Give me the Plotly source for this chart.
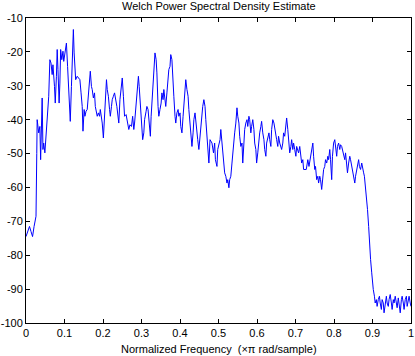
import plotly.graph_objects as go

freq_lo = [0.000, 0.005, 0.009, 0.013, 0.017, 0.021, 0.025, 0.026, 0.028]
psd_lo = [-74.5, -72.5, -71.5, -73.0, -74.5, -71.5, -69.0, -68.5, -50.0]

freq_a = [0.029, 0.033, 0.036, 0.038, 0.039, 0.042, 0.044, 0.046, 0.049, 0.052, 0.055, 0.057, 0.059,
          0.062, 0.065, 0.068, 0.070, 0.074, 0.076, 0.079, 0.081, 0.083, 0.086, 0.088, 0.090, 0.093,
          0.096, 0.098, 0.102, 0.105, 0.108, 0.110, 0.113, 0.115, 0.118, 0.121, 0.123, 0.125, 0.127,
          0.129, 0.133, 0.136, 0.140, 0.143, 0.146, 0.148, 0.151, 0.153, 0.156, 0.159, 0.162, 0.165,
          0.167, 0.170, 0.172, 0.175, 0.178, 0.180, 0.183, 0.185, 0.188, 0.191, 0.193, 0.196, 0.198,
          0.201, 0.204, 0.206, 0.209, 0.211, 0.214, 0.217, 0.219, 0.222, 0.224, 0.227, 0.230]
psd_a = [-40.0, -43.9, -42.0, -51.8, -46.9, -33.6, -48.8, -46.9, -49.8, -44.9, -41.5, -37.0, -33.1,
         -22.3, -23.3, -26.7, -23.8, -30.2, -35.1, -27.2, -19.3, -25.2, -35.1, -29.2, -19.3, -22.3,
         -19.8, -22.8, -20.3, -17.4, -24.3, -30.2, -37.0, -40.5, -30.2, -21.3, -13.4, -20.3, -27.2,
         -28.2, -27.2, -27.7, -28.2, -32.1, -36.1, -43.4, -37.0, -39.0, -37.5, -37.0, -32.1, -29.2,
         -25.7, -30.2, -31.1, -33.6, -32.1, -36.1, -38.0, -39.0, -38.0, -39.0, -37.0, -39.0, -41.0,
         -45.4, -37.0, -32.1, -28.2, -31.1, -33.1, -37.0, -39.0, -36.1, -34.1, -33.1, -32.1]

freq_b = [0.236, 0.241, 0.244, 0.248, 0.250, 0.253, 0.256, 0.260, 0.263, 0.267, 0.270, 0.274, 0.277,
          0.280, 0.282, 0.286, 0.289, 0.292, 0.294, 0.297, 0.300, 0.303, 0.306, 0.308, 0.312, 0.314,
          0.317, 0.320, 0.323, 0.325, 0.328, 0.331, 0.333, 0.335, 0.338, 0.340, 0.343, 0.345, 0.348,
          0.351, 0.353, 0.356, 0.358, 0.361, 0.363, 0.366, 0.369, 0.371, 0.374, 0.376, 0.379, 0.382,
          0.384, 0.387, 0.389, 0.392, 0.395, 0.397, 0.400, 0.402, 0.405, 0.408, 0.410, 0.413, 0.415,
          0.418, 0.421, 0.423, 0.426, 0.428, 0.431, 0.434, 0.436, 0.439, 0.441, 0.444, 0.446, 0.449,
          0.452, 0.454, 0.457, 0.459, 0.462, 0.465, 0.467, 0.470, 0.472, 0.475]
psd_b = [-36.1, -41.0, -34.1, -30.2, -27.7, -33.1, -39.0, -38.5, -40.0, -42.9, -41.5, -42.0, -39.0,
         -42.9, -41.0, -36.1, -30.6, -27.2, -30.2, -35.1, -42.0, -45.9, -43.9, -40.0, -37.5, -36.1,
         -37.0, -40.0, -44.9, -39.0, -32.1, -28.2, -22.3, -20.3, -22.3, -26.2, -36.1, -39.0, -37.0,
         -35.1, -32.1, -34.1, -31.1, -34.1, -36.1, -32.1, -28.2, -25.2, -24.3, -20.8, -22.3, -27.2,
         -33.1, -39.0, -41.0, -38.0, -37.0, -39.0, -38.0, -42.0, -43.9, -39.0, -35.1, -31.1, -28.2,
         -31.1, -33.1, -37.0, -41.0, -44.9, -47.9, -43.9, -40.0, -38.0, -41.0, -42.9, -45.9, -48.8,
         -44.9, -41.0, -38.0, -36.1, -34.1, -36.1, -40.0, -43.9, -48.8, -52.8]

freq_c = [0.478, 0.483, 0.487, 0.490, 0.492, 0.496, 0.498, 0.501, 0.504, 0.506, 0.509, 0.511, 0.514,
          0.516, 0.519, 0.522, 0.524, 0.527, 0.529, 0.532, 0.535, 0.537, 0.540, 0.542, 0.545, 0.548,
          0.550, 0.553, 0.555, 0.558, 0.561, 0.563, 0.566, 0.568, 0.571, 0.574, 0.576, 0.579, 0.581,
          0.584, 0.586, 0.589, 0.592, 0.594, 0.597, 0.599, 0.602, 0.605, 0.607, 0.610, 0.612, 0.615,
          0.618, 0.620, 0.623, 0.625, 0.628, 0.631, 0.633, 0.636, 0.638, 0.641, 0.644, 0.646, 0.649,
          0.651, 0.654, 0.656, 0.659, 0.662, 0.664, 0.667, 0.669, 0.672, 0.675, 0.677, 0.680, 0.682,
          0.685, 0.688, 0.690, 0.693, 0.695, 0.698, 0.701, 0.703, 0.706, 0.708, 0.711, 0.714, 0.716,
          0.719, 0.721]
psd_c = [-45.9, -46.9, -49.8, -46.9, -51.8, -53.8, -48.8, -46.9, -45.9, -42.9, -46.9, -50.8, -53.8,
         -55.7, -56.7, -58.7, -57.7, -60.1, -57.7, -56.7, -52.8, -49.8, -46.9, -43.9, -41.0, -36.5,
         -39.0, -41.0, -44.9, -47.9, -46.9, -52.8, -46.9, -42.9, -41.0, -40.0, -42.0, -39.0, -40.0,
         -43.9, -42.0, -40.0, -42.9, -46.9, -48.8, -52.8, -49.8, -45.9, -43.9, -42.0, -40.5, -43.9,
         -45.9, -48.8, -50.8, -46.9, -44.9, -43.9, -45.9, -47.9, -42.9, -40.0, -41.0, -42.9, -44.9,
         -45.9, -47.9, -44.9, -46.9, -47.9, -48.8, -46.9, -43.9, -44.9, -42.0, -39.5, -42.9, -46.9,
         -49.8, -47.9, -45.9, -48.8, -46.9, -48.8, -50.8, -47.9, -48.8, -49.8, -47.9, -50.8, -52.8,
         -51.8, -54.7]

freq_d = [0.728, 0.732, 0.735, 0.739, 0.742, 0.745, 0.747, 0.750, 0.752, 0.755, 0.758, 0.760, 0.763,
          0.765, 0.768, 0.771, 0.773, 0.776, 0.778, 0.781, 0.784, 0.786, 0.789, 0.791, 0.794, 0.796,
          0.799, 0.802, 0.804, 0.807, 0.809, 0.812, 0.815, 0.817, 0.820, 0.822, 0.825, 0.828, 0.830,
          0.833, 0.835, 0.838, 0.841, 0.843, 0.846, 0.848, 0.851, 0.854, 0.856, 0.859, 0.861, 0.864,
          0.866, 0.869, 0.872, 0.874, 0.877, 0.879, 0.882, 0.885, 0.887, 0.890, 0.892, 0.895, 0.898,
          0.900, 0.902, 0.905, 0.907, 0.910, 0.912, 0.915, 0.918, 0.920, 0.923, 0.925, 0.928, 0.930,
          0.933, 0.936, 0.938, 0.941, 0.943, 0.946, 0.949, 0.951, 0.954, 0.956, 0.959, 0.962, 0.964,
          0.967, 0.969, 0.972, 0.975, 0.977, 0.980, 0.982, 0.985, 0.988, 0.990, 0.993, 0.995, 0.998,
          1.000]
psd_d = [-54.7, -51.8, -53.8, -50.8, -48.8, -46.9, -50.8, -54.7, -53.8, -57.7, -56.7, -58.7, -56.7,
         -57.7, -60.6, -57.7, -54.7, -53.8, -51.8, -52.8, -50.8, -51.8, -48.8, -51.8, -57.7, -50.8,
         -46.9, -45.9, -48.8, -50.8, -47.9, -46.9, -48.8, -47.4, -47.9, -48.8, -50.8, -51.8, -49.8,
         -53.8, -55.7, -52.8, -50.8, -51.8, -53.8, -55.7, -57.7, -58.7, -56.7, -54.7, -52.8, -51.8,
         -53.8, -54.7, -52.8, -54.7, -55.7, -56.7, -59.7, -62.6, -66.5, -71.5, -76.4, -81.3, -85.2,
         -88.2, -90.1, -92.1, -94.1, -93.1, -95.1, -93.1, -92.1, -94.1, -96.0, -93.1, -94.1, -97.0,
         -93.6, -92.1, -94.1, -95.1, -93.1, -91.6, -94.1, -96.0, -93.1, -94.1, -92.1, -94.1, -95.5,
         -92.6, -94.1, -97.0, -93.1, -92.1, -94.1, -96.0, -93.1, -92.1, -95.1, -93.1, -92.1, -94.1,
         -95.1]

freq = freq_lo + freq_a + freq_b + freq_c + freq_d
psd = psd_lo + psd_a + psd_b + psd_c + psd_d

x_ticks = [0, 0.1, 0.2, 0.3, 0.4, 0.5, 0.6, 0.7, 0.8, 0.9, 1]
x_tick_labels = ["0", "0.1", "0.2", "0.3", "0.4", "0.5", "0.6", "0.7", "0.8", "0.9", "1"]
y_ticks = [-100, -90, -80, -70, -60, -50, -40, -30, -20, -10]
y_tick_labels = ["-100", "-90", "-80", "-70", "-60", "-50", "-40", "-30", "-20", "-10"]

title_text = "Welch Power Spectral Density Estimate"
xlabel_text = "Normalized Frequency  (×π rad/sample)"

W, H = 415, 356
L, R, T, B = 26, 4, 18, 33
plot_h = H - T - B

fig = go.Figure()
fig.add_trace(go.Scatter(x=freq, y=psd, mode="lines",
                         line=dict(color="#0000FF", width=1), showlegend=False))

font = dict(family="Liberation Sans, Arial, sans-serif", size=11, color="#000000")
axis_common = dict(showline=True, linecolor="#000000", linewidth=1, mirror="ticks",
                   ticks="inside", ticklen=4, tickcolor="#000000", showgrid=False,
                   zeroline=False, tickfont=font, automargin=False)

fig.update_layout(
    width=W, height=H,
    margin=dict(l=L, r=R, t=T, b=B, autoexpand=False),
    paper_bgcolor="#FFFFFF", plot_bgcolor="#FFFFFF",
    font=font,
    xaxis=dict(range=[0, 1], tickvals=x_ticks, ticktext=x_tick_labels, **axis_common),
    yaxis=dict(range=[-100, -10], tickvals=y_ticks, ticktext=y_tick_labels, **axis_common),
    annotations=[
        dict(text=title_text, xref="paper", yref="paper", x=0.5, y=1 + 12 / plot_h,
             xanchor="center", yanchor="middle", showarrow=False, font=font),
        dict(text=xlabel_text, xref="paper", yref="paper", x=0.5, y=-26 / plot_h,
             xanchor="center", yanchor="middle", showarrow=False, font=font),
    ],
)

fig.write_html("out.html", config={"displayModeBar": False},
               post_script="document.body.style.margin='0';document.body.style.overflow='hidden';")
